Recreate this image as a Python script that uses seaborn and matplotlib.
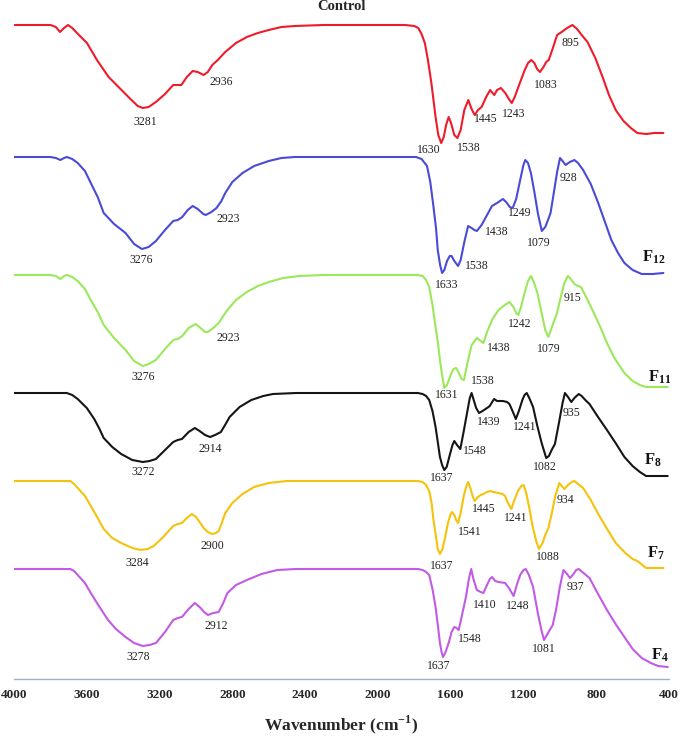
import numpy as np
import pandas as pd
import seaborn as sns
import matplotlib.pyplot as plt

# spectres FTIR : nombre d'onde (cm-1) et profondeur de bande (u.a.)
ctrl_wn = [4000, 3800, 3770, 3747, 3725, 3703, 3680, 3654, 3599, 3544, 3480, 3420, 3360, 3320, 3292, 3260,
           3220, 3170, 3125, 3100, 3080, 3050, 3018, 2990, 2958, 2935, 2910, 2880, 2839, 2780, 2720, 2660,
           2600, 2530, 2457, 2300, 1850, 1800, 1778, 1760, 1742, 1725, 1706, 1683, 1668, 1652, 1638, 1625,
           1611, 1598, 1580, 1563, 1545, 1525, 1503, 1485, 1468, 1450, 1430, 1405, 1383, 1370, 1360, 1345,
           1324, 1300, 1280, 1264, 1248, 1228, 1195, 1175, 1157, 1140, 1125, 1109, 1090, 1075, 1061, 1040,
           1015, 990, 960, 931, 905, 880, 848, 805, 765, 730, 693, 650, 610, 574, 526, 480, 431]
ctrl_d = [0, 0, 2, 7, 3, 0, 3, 8, 18, 35, 52, 63, 74, 81, 83, 82,
          77, 69, 60, 60, 60, 52, 46, 47, 50, 47, 40, 35, 27, 18, 12, 8,
          5, 2, 1, 0, 0, 1, 3, 9, 18, 35, 58, 92, 110, 118, 112, 100,
          92, 98, 110, 113, 105, 85, 75, 84, 90, 85, 82, 72, 65, 68, 70, 65,
          63, 68, 74, 78, 72, 62, 46, 38, 35, 38, 44, 47, 42, 37, 35, 24,
          10, 7, 3, 0, 4, 10, 17, 33, 52, 70, 85, 96, 103, 108, 109, 108, 108]

f12_wn = [4000, 3800, 3770, 3745, 3725, 3709, 3680, 3650, 3610, 3578, 3540, 3507, 3450, 3387, 3340, 3297,
          3260, 3220, 3170, 3125, 3100, 3075, 3045, 3018, 2990, 2960, 2946, 2915, 2887, 2860, 2839, 2800,
          2744, 2680, 2600, 2530, 2457, 1790, 1760, 1730, 1712, 1695, 1680, 1671, 1658, 1647, 1635, 1620,
          1605, 1595, 1580, 1559, 1545, 1525, 1504, 1485, 1470, 1456, 1430, 1400, 1373, 1345, 1313, 1295,
          1275, 1259, 1240, 1218, 1200, 1190, 1175, 1159, 1140, 1120, 1099, 1080, 1065, 1051, 1035, 1015,
          999, 985, 968, 945, 920, 900, 872, 830, 789, 750, 717, 680, 645, 600, 550, 490, 431]
f12_d = [0, 0, 1, 3, 1, 0, 2, 6, 14, 26, 40, 56, 67, 76, 87, 92,
         90, 84, 73, 64, 63, 60, 53, 49, 52, 57, 58, 55, 51, 44, 36, 25,
         16, 9, 4, 1, 0, 0, 2, 9, 25, 49, 72, 93, 108, 116, 113, 104,
         99, 99, 104, 109, 103, 85, 69, 71, 73, 74, 68, 58, 49, 46, 42, 45,
         50, 51, 42, 23, 8, 3, 6, 16, 35, 57, 74, 70, 63, 56, 38, 15,
         1, 4, 8, 5, 3, 6, 13, 27, 46, 66, 83, 96, 106, 113, 117, 117, 116]

f11_wn = [4000, 3800, 3770, 3745, 3725, 3709, 3680, 3650, 3610, 3578, 3540, 3507, 3450, 3387, 3340, 3292,
          3260, 3220, 3170, 3125, 3100, 3075, 3040, 3001, 2975, 2950, 2935, 2905, 2875, 2850, 2827, 2780,
          2720, 2660, 2600, 2520, 2433, 2300, 1780, 1754, 1735, 1718, 1700, 1683, 1670, 1659, 1647, 1635,
          1620, 1600, 1585, 1570, 1555, 1540, 1527, 1510, 1485, 1456, 1435, 1420, 1400, 1370, 1337, 1310,
          1277, 1255, 1240, 1228, 1215, 1194, 1175, 1159, 1145, 1123, 1100, 1080, 1063, 1045, 1030, 1015,
          995, 975, 956, 940, 920, 900, 884, 850, 813, 775, 741, 700, 645, 600, 560, 526, 460, 407]
f11_d = [0, 0, 1, 4, 1, 0, 2, 6, 14, 25, 37, 50, 63, 75, 86, 91,
         89, 85, 74, 65, 64, 61, 53, 49, 53, 57, 57, 53, 48, 41, 35, 25,
         17, 11, 7, 3, 1, 0, 0, 1, 5, 12, 30, 52, 68, 85, 100, 113,
         110, 100, 94, 93, 98, 104, 105, 90, 70, 63, 66, 68, 57, 44, 35, 31,
         27, 32, 38, 40, 33, 18, 6, 1, 6, 18, 38, 55, 62, 53, 45, 38,
         22, 8, 1, 4, 9, 11, 12, 24, 38, 53, 68, 83, 98, 106, 110, 112, 112, 112]

f8_wn = [4000, 3710, 3680, 3650, 3600, 3559, 3530, 3507, 3460, 3411, 3350, 3292, 3255, 3220, 3170, 3125,
         3100, 3077, 3040, 3006, 2980, 2950, 2922, 2895, 2863, 2840, 2815, 2760, 2696, 2630, 2577, 2450,
         1780, 1754, 1735, 1718, 1700, 1683, 1670, 1659, 1647, 1635, 1622, 1605, 1590, 1580, 1565, 1547,
         1530, 1515, 1504, 1495, 1485, 1475, 1460, 1444, 1425, 1400, 1385, 1372, 1361, 1345, 1313, 1290,
         1277, 1260, 1242, 1225, 1206, 1194, 1182, 1168, 1147, 1125, 1100, 1075, 1060, 1045, 1027, 1005,
         985, 972, 955, 937, 920, 896, 880, 860, 837, 790, 741, 690, 645, 600, 560, 526, 460, 407]
f8_d = [0, 0, 2, 6, 15, 26, 36, 45, 54, 61, 67, 69, 68, 66, 57, 49,
        47, 46, 39, 35, 38, 42, 44, 42, 39, 32, 24, 14, 7, 3, 1, 0,
        0, 1, 3, 7, 18, 34, 50, 64, 72, 77, 74, 62, 52, 48, 52, 56,
        40, 25, 14, 5, 0, 6, 15, 20, 18, 15, 13, 9, 6, 8, 8, 9,
        11, 18, 26, 18, 7, 2, 0, 5, 14, 32, 50, 65, 63, 57, 51, 30,
        10, 0, 4, 9, 5, 1, 3, 7, 11, 24, 37, 51, 64, 73, 79, 83, 83, 83]

f7_wn = [4000, 3690, 3670, 3650, 3610, 3578, 3540, 3507, 3460, 3411, 3350, 3304, 3265, 3232, 3180, 3125,
         3100, 3077, 3050, 3022, 3000, 2980, 2958, 2935, 2910, 2890, 2875, 2860, 2839, 2800, 2744, 2680,
         2600, 2500, 1780, 1754, 1735, 1718, 1705, 1695, 1683, 1671, 1659, 1645, 1630, 1615, 1600, 1592,
         1580, 1570, 1559, 1545, 1528, 1515, 1504, 1490, 1478, 1468, 1450, 1435, 1420, 1400, 1385, 1365,
         1337, 1315, 1301, 1285, 1266, 1250, 1230, 1212, 1199, 1185, 1170, 1150, 1130, 1115, 1095, 1080,
         1063, 1045, 1025, 1003, 990, 975, 955, 935, 920, 900, 872, 830, 789, 740, 693, 640, 600, 574,
         526, 480, 431]
f7_d = [0, 0, 3, 7, 15, 25, 37, 48, 57, 62, 67, 69, 68, 65, 56, 45,
        43, 42, 37, 33, 36, 41, 47, 51, 53, 52, 50, 43, 32, 22, 13, 6,
        2, 0, 0, 1, 4, 10, 22, 38, 53, 68, 73, 68, 56, 42, 33, 31,
        34, 39, 42, 32, 15, 6, 1, 8, 16, 20, 16, 14, 13, 11, 10, 11,
        12, 13, 15, 22, 28, 19, 10, 5, 4, 12, 25, 45, 60, 68, 62, 54,
        47, 33, 15, 2, 5, 8, 4, 1, 0, 3, 7, 19, 33, 48, 62, 72, 78, 80,
        87, 87, 87]

f4_wn = [4000, 3690, 3670, 3650, 3610, 3578, 3530, 3483, 3440, 3387, 3340, 3292, 3255, 3220, 3170, 3125,
         3100, 3077, 3040, 3006, 2980, 2955, 2934, 2905, 2875, 2850, 2827, 2780, 2720, 2640, 2553, 2450,
         1780, 1754, 1735, 1718, 1700, 1683, 1670, 1659, 1650, 1642, 1630, 1611, 1595, 1580, 1568, 1556,
         1540, 1516, 1500, 1487, 1475, 1456, 1435, 1420, 1400, 1385, 1373, 1355, 1337, 1301, 1280, 1254,
         1235, 1218, 1200, 1187, 1170, 1147, 1120, 1100, 1087, 1065, 1039, 1020, 1000, 980, 965, 944,
         925, 910, 896, 870, 837, 790, 741, 690, 645, 600, 550, 500, 460, 407]
f4_d = [0, 0, 2, 6, 14, 24, 38, 51, 60, 68, 74, 77, 76, 74, 63, 51,
        49, 48, 40, 34, 38, 43, 46, 44, 43, 34, 24, 16, 11, 5, 1, 0,
        0, 1, 3, 6, 20, 38, 57, 74, 83, 88, 84, 74, 63, 58, 59, 61,
        48, 28, 10, 0, 10, 21, 23, 24, 16, 10, 8, 12, 13, 14, 19, 27,
        15, 6, 1, 0, 6, 18, 45, 62, 71, 64, 56, 40, 18, 1, 4, 9,
        5, 1, 0, 4, 9, 25, 41, 56, 68, 80, 89, 94, 97, 98]

samples = ["Control", "F12", "F11", "F8", "F7", "F4"]
colors = ["#ee1c2a", "#4a4ad8", "#9be85a", "#151515", "#f5c20c", "#c25ae6"]
offsets = [25, 157, 275, 393, 481, 569]   # décalage vertical de chaque spectre

# annotations des bandes (nombre d'onde du texte, hauteur, texte)
peaks = {
    "Control": [(3280, 122, "3281"), (2863, 82, "2936"), (1718, 150, "1630"), (1499, 148, "1538"),
                (1405, 119, "1445"), (1255, 114, "1243"), (1075, 85, "1083"), (939, 43, "895")],
    "F12": [(3299, 260, "3276"), (2822, 219, "2923"), (1623, 285, "1633"), (1456, 266, "1538"),
            (1349, 232, "1438"), (1218, 213, "1249"), (1115, 243, "1079"), (951, 178, "928")],
    "F11": [(3292, 377, "3276"), (2822, 338, "2923"), (1623, 395, "1631"), (1425, 381, "1538"),
            (1337, 348, "1438"), (1223, 324, "1242"), (1063, 349, "1079"), (932, 298, "915")],
    "F8": [(3292, 472, "3272"), (2922, 449, "2914"), (1647, 478, "1637"), (1468, 451, "1548"),
           (1390, 422, "1439"), (1194, 427, "1241"), (1080, 467, "1082"), (937, 413, "935")],
    "F7": [(3321, 563, "3284"), (2910, 546, "2900"), (1647, 566, "1637"), (1497, 532, "1541"),
           (1420, 509, "1445"), (1242, 518, "1241"), (1063, 557, "1088"), (968, 500, "934")],
    "F4": [(3316, 657, "3278"), (2887, 626, "2912"), (1664, 666, "1637"), (1492, 639, "1548"),
           (1413, 605, "1410"), (1230, 606, "1248"), (1087, 649, "1081"), (913, 587, "937")],
}
name_pos = {"F12": (485, 257), "F11": (452, 377), "F8": (490, 460), "F7": (470, 553), "F4": (452, 655)}

series = {"Control": (ctrl_wn, ctrl_d), "F12": (f12_wn, f12_d), "F11": (f11_wn, f11_d),
          "F8": (f8_wn, f8_d), "F7": (f7_wn, f7_d), "F4": (f4_wn, f4_d)}

rows = []
for name, off in zip(samples, offsets):
    wn, d = series[name]
    rows.append(pd.DataFrame({"wn": wn, "level": off + np.array(d), "sample": name}))
df = pd.concat(rows, ignore_index=True)

sns.set_style("white")
plt.rcParams["font.family"] = ["Liberation Serif", "DejaVu Serif"]
plt.rcParams["mathtext.fontset"] = "custom"
plt.rcParams["mathtext.rm"] = "Liberation Serif"
plt.rcParams["mathtext.bf"] = "Liberation Serif:bold"

fig = plt.figure(figsize=(6.8, 7.4), dpi=100)
ax = fig.add_axes([14 / 680, 61 / 740, 655 / 680, 679 / 740])

sns.lineplot(data=df, x="wn", y="level", hue="sample", palette=dict(zip(samples, colors)),
             sort=False, estimator=None, legend=False, linewidth=1.5, ax=ax)
for line in ax.get_lines():
    line.set_solid_joinstyle("round")
    line.set_solid_capstyle("round")

for name in samples:
    for x, y, txt in peaks[name]:
        ax.text(x, y, txt, ha="center", va="center", fontsize=8.5, color="#222222")
for name, (x, y) in name_pos.items():
    ax.text(x, y, r"$\mathbf{F_{%s}}$" % name[1:], ha="center", va="center", fontsize=12, color="#111111")

ax.text(2200, 7, "Control", ha="center", va="center", fontsize=10.5, fontweight="bold")

ax.set_xlim(4000, 400)
ax.set_ylim(679, 0)
ax.set_xticks(np.arange(4000, 399, -400))
ax.set_yticks([])
for s in ["left", "top", "right"]:
    ax.spines[s].set_visible(False)
ax.spines["bottom"].set_color("#9fb0cc")
ax.spines["bottom"].set_linewidth(1.0)
ax.tick_params(axis="x", direction="inout", length=4, width=0.8, color="#9fb0cc", pad=5)
for lab in ax.get_xticklabels():
    lab.set_fontweight("bold")
    lab.set_fontsize(9.5)
ax.set_xlabel(r"Wavenumber (cm$^{\mathbf{-1}}$)", fontsize=12.5, fontweight="bold", labelpad=9)
ax.set_ylabel("")

fig.savefig("out.png", dpi=100)
